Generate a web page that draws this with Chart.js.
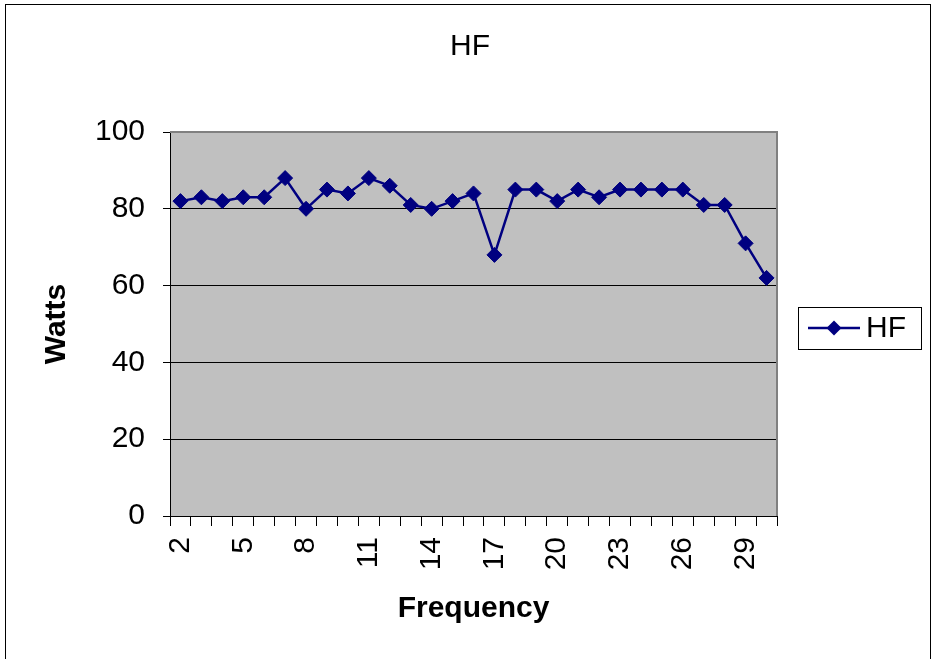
<!DOCTYPE html>
<html>
<head>
<meta charset="utf-8">
<script src="https://cdn.jsdelivr.net/npm/chart.js@4/dist/chart.umd.min.js"></script>
<style>
    html, body { margin: 0; padding: 0; background: #fff; }
    #wrap { position: relative; width: 937px; height: 659px; }
</style>
</head>
<body>
<div id="wrap"><canvas id="hfChart" width="937" height="659"></canvas></div>
<script>
// Chart data
const frequencies = ['2', '3', '4', '5', '6', '7', '8', '9', '10', '11', '12', '13', '14', '15', '16',
    '17', '18', '19', '20', '21', '22', '23', '24', '25', '26', '27', '28', '29', '30'];
const hfWatts = [82, 83, 82, 83, 83, 88, 80, 85, 84, 88, 86, 81, 80, 82, 84,
    68, 85, 85, 82, 85, 83, 85, 85, 85, 85, 81, 81, 71, 62];
const wattTicks = [0, 20, 40, 60, 80, 100];
const chartTitle = 'HF';

const FONT = '"Liberation Sans", Arial, sans-serif';
const NAVY = '#000080';

// plot background, frame, title and legend drawn by hand
const excelLook = {
    id: 'excelLook',
    beforeDraw(chart) {
        const { ctx, chartArea: a } = chart;
        ctx.save();
        ctx.fillStyle = '#c0c0c0';
        ctx.fillRect(a.left, a.top, a.right - a.left, a.bottom - a.top);
        ctx.restore();
    },
    beforeDatasetsDraw(chart) {
        const { ctx, chartArea: a } = chart;
        ctx.save();
        ctx.strokeStyle = '#808080';
        ctx.lineWidth = 2;
        ctx.beginPath();
        ctx.moveTo(a.left, a.top);
        ctx.lineTo(a.right, a.top);
        ctx.lineTo(a.right, a.bottom);
        ctx.stroke();
        ctx.restore();
    },
    afterDraw(chart) {
        const ctx = chart.ctx;
        const ds = chart.data.datasets[0];
        ctx.save();
        // outer frame
        ctx.strokeStyle = '#000';
        ctx.lineWidth = 1;
        ctx.strokeRect(5.5, 4.5, 925, 700);
        // title
        ctx.fillStyle = '#000';
        ctx.font = '30px ' + FONT;
        ctx.textAlign = 'center';
        ctx.textBaseline = 'middle';
        ctx.fillText(chartTitle, 470, 47);
        // legend
        ctx.strokeRect(798.5, 307.5, 123, 42);
        ctx.strokeStyle = ds.borderColor;
        ctx.lineWidth = 2.5;
        ctx.beginPath();
        ctx.moveTo(808, 328);
        ctx.lineTo(860, 328);
        ctx.stroke();
        ctx.fillStyle = ds.backgroundColor;
        ctx.beginPath();
        ctx.moveTo(834, 320.5); ctx.lineTo(841.5, 328); ctx.lineTo(834, 335.5); ctx.lineTo(826.5, 328);
        ctx.closePath();
        ctx.fill();
        ctx.fillStyle = '#000';
        ctx.font = '30px ' + FONT;
        ctx.textAlign = 'left';
        ctx.fillText(ds.label, 866, 329);
        ctx.restore();
    }
};

const ctx = document.getElementById('hfChart').getContext('2d');
const chart = new Chart(ctx, {
    type: 'line',
    data: {
        labels: frequencies,
        datasets: [{
            label: 'HF',
            data: hfWatts,
            borderColor: NAVY,
            backgroundColor: NAVY,
            borderWidth: 2.5,
            pointStyle: 'rectRot',
            pointRadius: 7.5,
            pointBorderWidth: 1,
            pointBackgroundColor: NAVY,
            pointBorderColor: NAVY,
            tension: 0
        }]
    },
    options: {
        responsive: false,
        animation: false,
        layout: { padding: { left: 0, right: 160, top: 132, bottom: 0 } },
        plugins: {
            legend: { display: false },
            tooltip: { enabled: false },
            title: { display: false }
        },
        scales: {
            x: {
                offset: true,
                afterFit: scale => { scale.height = 143; },
                grid: {
                    offset: true,
                    drawOnChartArea: false,
                    drawTicks: true,
                    tickLength: 10,
                    tickColor: '#000'
                },
                border: { color: '#000', width: 1 },
                ticks: {
                    autoSkip: false,
                    maxRotation: 90,
                    minRotation: 90,
                    padding: 11,
                    color: '#000',
                    font: { family: FONT, size: 30 },
                    callback: function(value, index) {
                        return index % 3 === 0 ? frequencies[index] : '';
                    }
                },
                title: {
                    display: true,
                    text: 'Frequency',
                    color: '#000',
                    font: { family: FONT, size: 30, weight: 'bold', lineHeight: 1.2 },
                    padding: { top: 0, bottom: 32 }
                }
            },
            y: {
                min: 0,
                max: 100,
                afterFit: scale => { scale.width = 170; },
                afterBuildTicks: scale => {
                    scale.ticks = wattTicks.map(v => ({ value: v }));
                },
                grid: {
                    color: c => (c.tick && (c.tick.value === 100 || c.tick.value === 0)) ? 'rgba(0,0,0,0)' : '#000',
                    tickColor: '#000',
                    tickLength: 7,
                    lineWidth: 1
                },
                border: { color: '#000', width: 1 },
                ticks: {
                    padding: 18,
                    color: '#000',
                    font: { family: FONT, size: 30 }
                },
                title: {
                    display: true,
                    text: 'Watts',
                    color: '#000',
                    font: { family: FONT, size: 30, weight: 'bold', lineHeight: 1.2 },
                    padding: { top: 39, bottom: 0 }
                }
            }
        }
    },
    plugins: [excelLook]
});
</script>
</body>
</html>
